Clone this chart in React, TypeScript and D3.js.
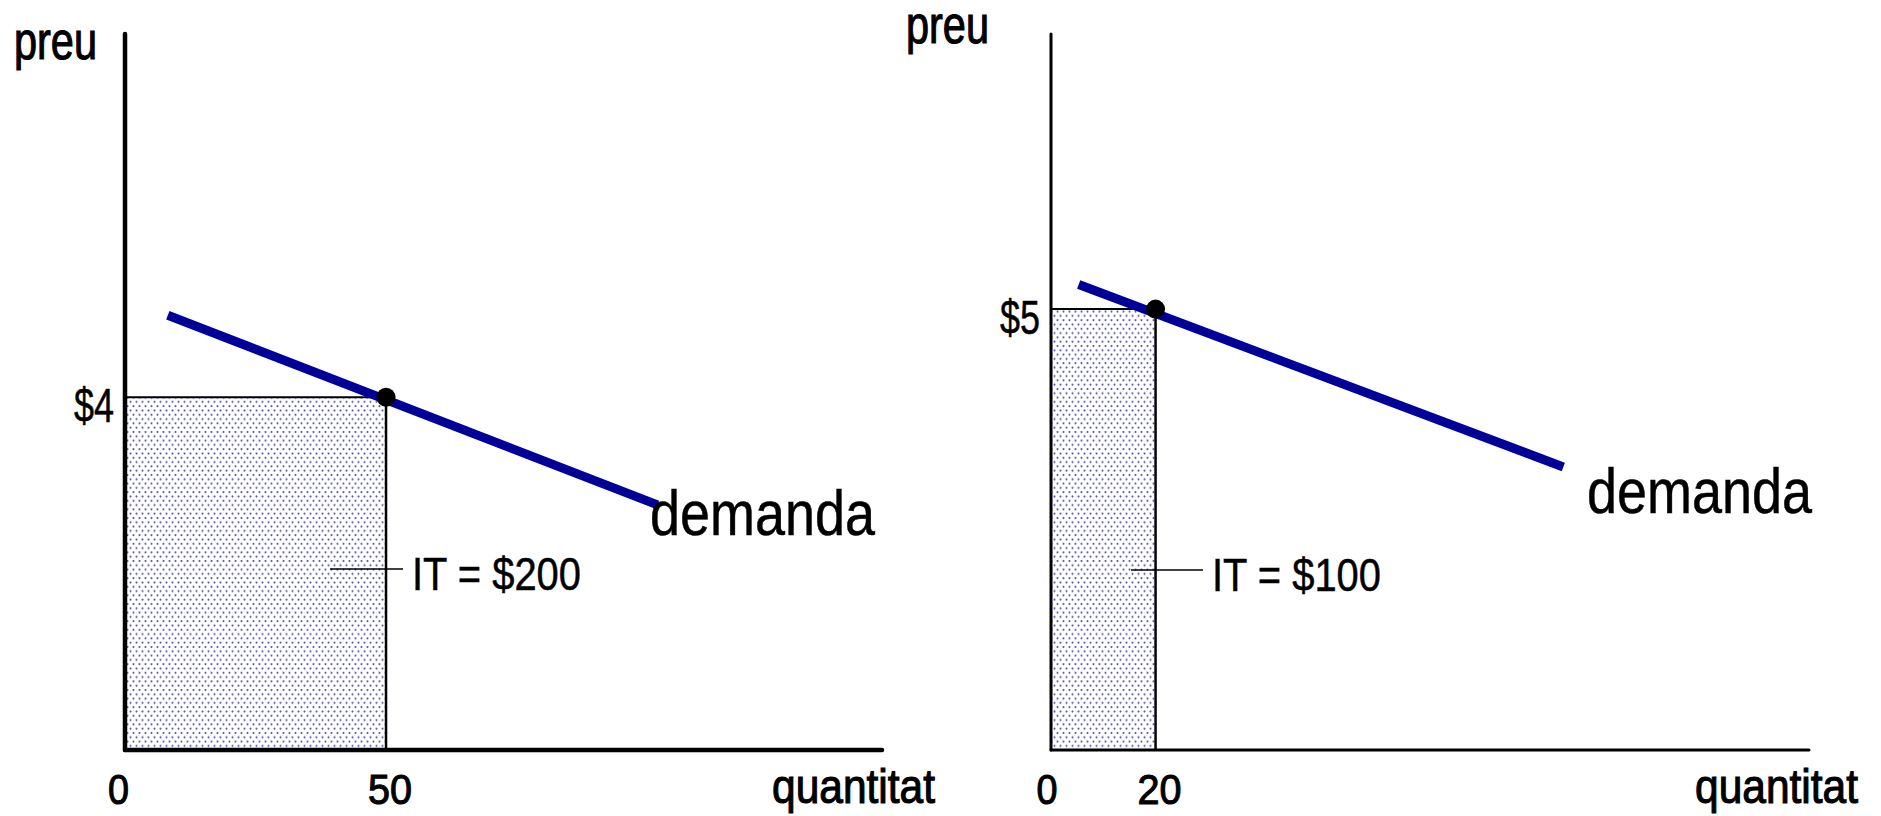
import React from "react";
import * as d3 from "d3";

// ---- data ----
const panelNames = ["left", "right"];
const eqPrices = [4, 5];
const eqQuantities = [50, 20];
const revenueLabels = ["IT = $200", "IT = $100"];
const priceTickLabels = ["$4", "$5"];
const qtyTickLabels = ["50", "20"];
const demandLeft = [
  { q: 8.2, p: 4.93 },
  { q: 102, p: 2.78 },
];
const demandRight = [
  { q: 5.3, p: 5.28 },
  { q: 98, p: 3.21 },
];
const demands = [demandLeft, demandRight];

const W = 1881;
const H = 816;
const FONT = "'Liberation Sans', Arial, sans-serif";

const layout = [
  { x0: 125, x1: 882, axisW: 4.5, preuX: 14, preuY: 59, qtyX: 772, zeroX: 118.5, demX: 650, demY: 535, itX: 412, itY: 590, leadX0: 330 },
  { x0: 1051, x1: 1809, axisW: 3, preuX: 906, preuY: 43, qtyX: 1695, zeroX: 1047, demX: 1587, demY: 513, itX: 1212, itY: 591, leadX0: 1131 },
];

const yTop = 34;
const yBottom = 750;

export default function App() {
  const y = d3.scaleLinear().domain([0, 8.12]).range([yBottom, yTop]);
  return (
    <svg width={W} height={H} style={{ position: "absolute", left: 0, top: 0, background: "#fff" }}>
      <defs>
        <pattern id="dots" width="6" height="8.6" patternUnits="userSpaceOnUse">
          <rect width="6" height="8.6" fill="#ffffff" />
          <circle cx="1.5" cy="2" r="1.05" fill="#4f4fb2" />
          <circle cx="4.5" cy="6.3" r="1.05" fill="#4f4fb2" />
        </pattern>
      </defs>
      {panelNames.map((name, i) => {
        const L = layout[i];
        const x = d3.scaleLinear().domain([0, 145]).range([L.x0, L.x1]);
        const line = d3
          .line<{ q: number; p: number }>()
          .x((d) => x(d.q))
          .y((d) => y(d.p));
        const ex = x(eqQuantities[i]);
        const ey = y(eqPrices[i]);
        const boldish = { stroke: "#000", strokeWidth: 1.1 };
        const medium = { stroke: "#000", strokeWidth: 0.5 };
        return (
          <g key={name}>
            {/* shaded revenue rect */}
            <rect x={x(0)} y={ey} width={ex - x(0)} height={y(0) - ey} fill="url(#dots)" />
            <line x1={x(0)} x2={ex} y1={ey} y2={ey} stroke="#000" strokeWidth={2} />
            <line x1={ex} x2={ex} y1={ey} y2={y(0)} stroke="#000" strokeWidth={2.5} />
            {/* axes */}
            <line x1={x(0)} x2={x(0)} y1={yTop} y2={yBottom} stroke="#000" strokeWidth={L.axisW} strokeLinecap="round" />
            <line x1={x(0)} x2={L.x1} y1={yBottom} y2={yBottom} stroke="#000" strokeWidth={L.axisW} strokeLinecap="round" />
            {/* demand */}
            <path d={line(demands[i]) || ""} stroke="#000099" strokeWidth={9} fill="none" />
            <circle cx={ex} cy={ey} r={9.5} fill="#000" />
            {/* leader */}
            <line x1={L.leadX0} x2={L.itX - 9} y1={L.itY - 21} y2={L.itY - 21} stroke="#000" strokeWidth={1.6} />
            {/* texts */}
            <text x={L.preuX} y={L.preuY} fontFamily={FONT} fontSize={51} textLength={83} lengthAdjust="spacingAndGlyphs" {...boldish}>preu</text>
            <text x={L.qtyX} y={803} fontFamily={FONT} fontSize={48} textLength={163} lengthAdjust="spacingAndGlyphs" {...boldish}>quantitat</text>
            <text x={L.zeroX} y={804} fontFamily={FONT} fontSize={43} textAnchor="middle" textLength={21} lengthAdjust="spacingAndGlyphs" {...boldish}>0</text>
            <text x={ex + 4} y={804} fontFamily={FONT} fontSize={43} textAnchor="middle" textLength={44} lengthAdjust="spacingAndGlyphs" {...boldish}>{qtyTickLabels[i]}</text>
            <text x={x(0) - 11} y={ey + 25} fontFamily={FONT} fontSize={48} textAnchor="end" textLength={40} lengthAdjust="spacingAndGlyphs" {...medium}>{priceTickLabels[i]}</text>
            <text x={L.demX} y={L.demY} fontFamily={FONT} fontSize={63} textLength={225} lengthAdjust="spacingAndGlyphs" {...medium}>demanda</text>
            <text x={L.itX} y={L.itY} fontFamily={FONT} fontSize={46} textLength={169} lengthAdjust="spacingAndGlyphs" {...medium}>{revenueLabels[i]}</text>
          </g>
        );
      })}
    </svg>
  );
}
